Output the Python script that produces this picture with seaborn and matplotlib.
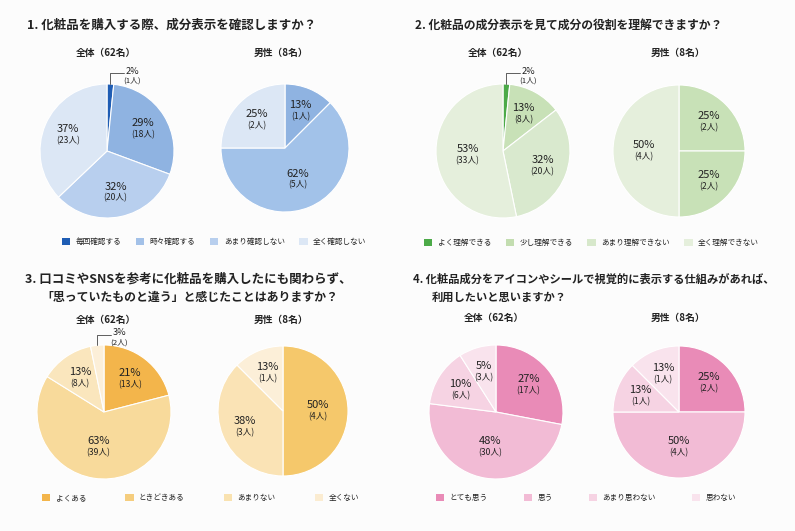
import matplotlib
matplotlib.use("Agg")
import matplotlib.pyplot as plt
from matplotlib.patches import Patch
import seaborn as sns
import numpy as np

# ---------------- data ----------------
q1_title = ["1. 化粧品を購入する際、成分表示を確認しますか？"]
q1_categories = ["毎回確認する", "時々確認する", "あまり確認しない", "全く確認しない"]
q1_all_counts = [1, 18, 20, 23]
q1_all_pct = [2, 29, 32, 37]
q1_male_counts = [0, 1, 5, 2]
q1_male_pct = [0, 13, 62, 25]

q2_title = ["2. 化粧品の成分表示を見て成分の役割を理解できますか？"]
q2_categories = ["よく理解できる", "少し理解できる", "あまり理解できない", "全く理解できない"]
q2_all_counts = [1, 8, 20, 33]
q2_all_pct = [2, 13, 32, 53]
q2_male_counts = [0, 2, 2, 4]
q2_male_pct = [0, 25, 25, 50]

q3_title = ["3. 口コミやSNSを参考に化粧品を購入したにも関わらず、",
            "「思っていたものと違う」と感じたことはありますか？"]
q3_categories = ["よくある", "ときどきある", "あまりない", "全くない"]
q3_all_counts = [13, 39, 8, 2]
q3_all_pct = [21, 63, 13, 3]
q3_male_counts = [0, 4, 3, 1]
q3_male_pct = [0, 50, 38, 13]

q4_title = ["4. 化粧品成分をアイコンやシールで視覚的に表示する仕組みがあれば、",
            "利用したいと思いますか？"]
q4_categories = ["とても思う", "思う", "あまり思わない", "思わない"]
q4_all_counts = [17, 30, 6, 3]
q4_all_pct = [27, 48, 10, 5]
q4_all_drawn_share = [28, 49, 14, 9]   # wedge sizes as drawn in the picture
q4_male_counts = [2, 4, 1, 1]
q4_male_pct = [25, 50, 13, 13]

sub_all = "全体（62名）"
sub_male = "男性（8名）"

# ---------------- style ----------------
sns.set_theme(style="white")
plt.rcParams['font.family'] = ['Noto Sans CJK JP', 'DejaVu Sans']

q1_pal = sns.color_palette(["#1f5db4", "#8fb3e1", "#b8cfee", "#dce7f5"])
q1_pal_m = sns.color_palette(["#1f5db4", "#8fb3e1", "#a2c2e9", "#dce7f5"])
q1_leg = sns.color_palette(["#1f5db4", "#a3c1e8", "#b8cfee", "#dce7f5"])
q2_pal = sns.color_palette(["#4caa48", "#c8e1b7", "#d9e9ce", "#e5efdc"])
q2_pal_m = sns.color_palette(["#4caa48", "#c8e1b7", "#c8e1b7", "#e5efdc"])
q2_leg = sns.color_palette(["#4caa48", "#c3ddb0", "#d7e8cb", "#e5efdc"])
q3_pal = sns.color_palette(["#f3b54b", "#f8da9b", "#fae6bd", "#fcefd8"])
q3_pal_m = sns.color_palette(["#f3b54b", "#f5c86b", "#fae3b5", "#fcefd8"])
q3_leg = sns.color_palette(["#f3b54b", "#f5cd7e", "#f9e2b0", "#fbecd1"])
q4_pal = sns.color_palette(["#e98bb7", "#f2bbd5", "#f6d3e3", "#f9e3ed"])
q4_leg = q4_pal

TXT = "#222222"
W, H = 795, 531
fig = plt.figure(figsize=(W / 100, H / 100), dpi=100)
fig.patch.set_facecolor("#fcfcfc")
S = 1.6


def px_axes(cx, cy, r):
    ax = fig.add_axes([(cx - S * r) / W, 1 - (cy + S * r) / H, 2 * S * r / W, 2 * S * r / H])
    ax.axis('off')
    return ax


def draw_pie(cx, cy, r, counts, pcts, colors, sizes=None):
    ax = px_axes(cx, cy, r)
    sizes = counts if sizes is None else sizes
    idx = [i for i, v in enumerate(sizes) if v > 0]
    vals = [sizes[i] for i in idx]
    wedges, _ = ax.pie(vals, colors=[colors[i] for i in idx], startangle=90,
                       counterclock=False,
                       wedgeprops=dict(edgecolor="white", linewidth=0.8))
    ax.set_xlim(-S, S)
    ax.set_ylim(-S, S)
    ax.set_aspect('equal')
    total = float(sum(vals))
    for w, i in zip(wedges, idx):
        frac = sizes[i] / total
        a = np.deg2rad((w.theta1 + w.theta2) / 2)
        if pcts[i] < 4:
            x0, y0 = np.cos(a), np.sin(a)
            ax.plot([x0, x0, x0 + 0.2], [y0, y0 + 0.16, y0 + 0.16],
                    color="#444444", lw=0.6, clip_on=False)
            tx, ty = x0 + 0.33, y0 + 0.12
            ax.annotate(f"{pcts[i]}%", (tx, ty), xytext=(0, 3.2), textcoords="offset points",
                        ha="center", va="center", fontsize=6.6, color=TXT, annotation_clip=False)
            ax.annotate(f"({counts[i]}人)", (tx, ty), xytext=(0, -3.6), textcoords="offset points",
                        ha="center", va="center", fontsize=5.6, color=TXT, annotation_clip=False)
        else:
            d = 0.53 if frac >= 0.45 else 0.63
            x, y = d * np.cos(a), d * np.sin(a)
            ax.annotate(f"{pcts[i]}%", (x, y), xytext=(0, 4.2), textcoords="offset points",
                        ha="center", va="center", fontsize=8, color=TXT)
            ax.annotate(f"({counts[i]}人)", (x, y), xytext=(0, -4.2), textcoords="offset points",
                        ha="center", va="center", fontsize=6.2, color=TXT)
    return ax


def ftext(x, y, s, **kw):
    fig.text(x / W, 1 - y / H, s, color=TXT, va="center", **kw)


def legend(x, y, cats, cols, cs):
    handles = [Patch(facecolor=c, edgecolor="none") for c in cols]
    fig.legend(handles, cats, loc="center left", bbox_to_anchor=(x / W, 1 - y / H),
               ncol=4, frameon=False, fontsize=5.5, handlelength=1.1, handleheight=1.1,
               handletextpad=0.7, columnspacing=cs, borderpad=0, borderaxespad=0,
               labelcolor=TXT)


SUB = 7.0
# ---- panel 1 ----
ftext(27, 25, q1_title[0], fontsize=9, fontweight="bold", ha="left")
ftext(106, 53, sub_all, fontsize=SUB, fontweight="bold", ha="center")
ftext(281, 53, sub_male, fontsize=SUB, fontweight="bold", ha="center")
draw_pie(107, 151, 67, q1_all_counts, q1_all_pct, q1_pal)
draw_pie(285, 148, 64, q1_male_counts, q1_male_pct, q1_pal_m)
legend(62, 242, q1_categories, q1_leg, 1.9)

# ---- panel 2 ----
ftext(415, 25, q2_title[0], fontsize=8.5, fontweight="bold", ha="left")
ftext(498, 53, sub_all, fontsize=SUB, fontweight="bold", ha="center")
ftext(678, 53, sub_male, fontsize=SUB, fontweight="bold", ha="center")
draw_pie(503, 151, 67, q2_all_counts, q2_all_pct, q2_pal)
draw_pie(679, 151, 66, q2_male_counts, q2_male_pct, q2_pal_m)
legend(424, 243, q2_categories, q2_leg, 1.9)

# ---- panel 3 ----
ftext(25, 279, q3_title[0], fontsize=9, fontweight="bold", ha="left")
ftext(41, 297, q3_title[1], fontsize=8.6, fontweight="bold", ha="left")
ftext(106, 320, sub_all, fontsize=SUB, fontweight="bold", ha="center")
ftext(281, 320, sub_male, fontsize=SUB, fontweight="bold", ha="center")
draw_pie(104, 412, 67, q3_all_counts, q3_all_pct, q3_pal)
draw_pie(283, 411, 65, q3_male_counts, q3_male_pct, q3_pal_m)
legend(42, 498, q3_categories, q3_leg, 5.1)

# ---- panel 4 ----
ftext(413, 279, q4_title[0], fontsize=8.1, fontweight="bold", ha="left")
ftext(432, 297, q4_title[1], fontsize=8.1, fontweight="bold", ha="left")
ftext(494, 318, sub_all, fontsize=SUB, fontweight="bold", ha="center")
ftext(678, 318, sub_male, fontsize=SUB, fontweight="bold", ha="center")
draw_pie(496, 412, 67, q4_all_counts, q4_all_pct, q4_pal, sizes=q4_all_drawn_share)
draw_pie(679, 412, 66, q4_male_counts, q4_male_pct, q4_pal)
legend(436, 498, q4_categories, q4_leg, 4.7)

fig.savefig("out.png", dpi=100, facecolor=fig.get_facecolor())
